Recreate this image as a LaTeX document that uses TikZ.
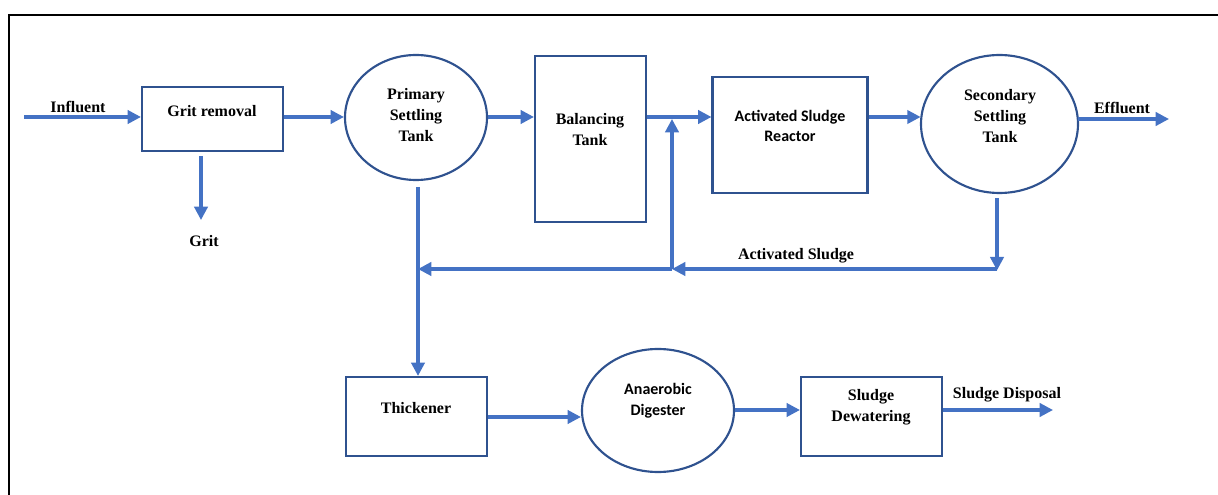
\documentclass[tikz,border=0pt]{standalone}
\usepackage{fontspec}
\setmainfont{Liberation Serif}
\newfontfamily\calib{Carlito}
\usetikzlibrary{shapes.geometric,arrows.meta}
\definecolor{boxblue}{HTML}{2F528F}
\definecolor{arrblue}{HTML}{4472C4}
\tikzset{
  box/.style={draw=boxblue,line width=1.6pt,rectangle,inner sep=0pt},
  tank/.style={draw=boxblue,line width=1.6pt,ellipse,inner sep=0pt},
  arr/.style={draw=arrblue,line width=2.3pt,-{Triangle[length=10pt,width=10pt]}},
  ln/.style={draw=arrblue,line width=2.3pt},
  lbl/.style={font=\fontsize{12}{15.5}\selectfont\bfseries,align=center,inner sep=0pt},
  slbl/.style={font=\calib\fontsize{12}{15.5}\selectfont\bfseries,align=center,inner sep=0pt},
}
\begin{document}
\begin{tikzpicture}[x=0.75pt,y=-0.75pt]
\useasboundingbox (0,0) rectangle (1218,495);
% frame
\draw[line width=1.6pt,black] (9,495) -- (9,15) -- (1218,15);
% shapes
\node[box,minimum width=141*0.75pt,minimum height=64*0.75pt] (grit) at (212.5,119) {};
\node[tank,minimum width=142*0.75pt,minimum height=125*0.75pt] (pst) at (416,117.5) {};
\node[box,minimum width=111*0.75pt,minimum height=166*0.75pt] (bal) at (590.5,139) {};
\node[box,minimum width=155*0.75pt,minimum height=116*0.75pt] (asr) at (790,135) {};
\node[tank,minimum width=157*0.75pt,minimum height=138*0.75pt] (sst) at (999.5,124) {};
\node[box,minimum width=141*0.75pt,minimum height=79*0.75pt] (thick) at (416.5,416.5) {};
\node[tank,minimum width=152*0.75pt,minimum height=123*0.75pt] (ad) at (658,410.5) {};
\node[box,minimum width=141*0.75pt,minimum height=79*0.75pt] (dew) at (871.5,416.5) {};
% texts
\node[lbl] (tgrit) at (212,111) {Grit removal};
\node[lbl] (tpst) at (416,115) {Primary\\Settling\\Tank};
\node[lbl] (tbal) at (590,129.5) {Balancing\\Tank};
\node[slbl] (tasr) at (790,126) {Activated Sludge\\Reactor};
\node[lbl] (tsst) at (1000,116) {Secondary\\Settling\\Tank};
\node[lbl] (tthick) at (416,408) {Thickener};
\node[slbl] (tad) at (658,401) {Anaerobic\\Digester};
\node[lbl] (tdew) at (871,407.5) {Sludge\\Dewatering};
\node[lbl] (linf) at (78,106.5) {Influent};
\node[lbl] (lgrit) at (204,241) {Grit};
\node[lbl] (leff) at (1122,107.5) {Effluent};
\node[lbl] (las) at (796,256) {Activated Sludge};
\node[lbl] (lsd) at (1007,394.5) {Sludge Disposal};
% coordinates
\coordinate (m) at (0,117);
\coordinate (inf) at (24,117);
\coordinate (g1) at (201,156);
\coordinate (g2) at (201,220);
\coordinate (effend) at (1169,119);
\coordinate (effstart) at (1078,119);
\coordinate (s1) at (997,198);
\coordinate (s2) at (997,269);
\coordinate (r) at (672,269);
\coordinate (rt) at (672,119);
\coordinate (pl) at (418,269);
\coordinate (p1) at (418,187);
\coordinate (sd) at (1053,410);
\coordinate (lo) at (0,410);
\coordinate (lt) at (0,417);
% connectors
\draw[arr] (inf) -- (grit.west |- m);
\draw[arr] (grit.east |- m) -- (pst.west |- m);
\draw[arr] (g1) -- (g2);
\draw[arr] (pst.east |- m) -- (bal.west |- m);
\draw[arr] (bal.east |- m) -- (asr.west |- m);
\draw[arr] (r) -- (rt);
\draw[arr] (asr.east |- m) -- ([xshift=0.5pt]sst.west |- m);
\draw[arr] (effstart) -- (effend);
\draw[arr] (s1) -- ([yshift=-1pt]s2);
\draw[arr] (s2) -- (r);
\draw[arr] (r) -- (pl);
\draw[arr] (p1) -- (thick.north -| p1);
\draw[arr] (thick.east |- lt) -- (ad.west |- lt);
\draw[arr] (ad.east |- lo) -- (dew.west |- lo);
\draw[arr] (dew.east |- lo) -- (sd);
\end{tikzpicture}
\end{document}
